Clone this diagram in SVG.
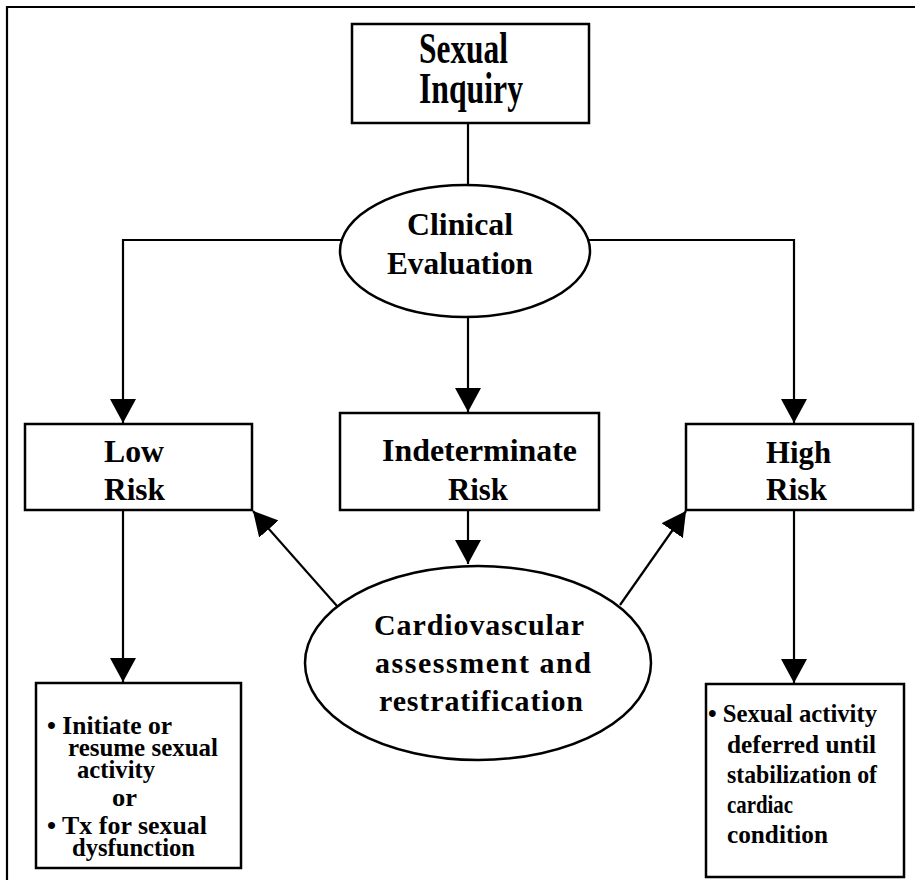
<svg xmlns="http://www.w3.org/2000/svg" width="915" height="880" viewBox="0 0 915 880">
<style>
  .box { fill: #fff; stroke: #000; stroke-width: 2.5; }
  .ell { fill: #fff; stroke: #000; stroke-width: 2.5; }
  .ln { fill: none; stroke: #000; stroke-width: 2.2; }
  .t { font-family: "Liberation Serif", "Times New Roman", serif; font-weight: bold; fill: #000; }
  .big { font-size: 44px; }
  .mid { font-size: 32px; }
  .cv { font-size: 30px; }
  .sm { font-size: 26px; }
  .xs { font-size: 25px; }
</style>
<defs>
  <marker id="arr" viewBox="0 0 24 26" refX="24" refY="13" markerWidth="24" markerHeight="26" markerUnits="userSpaceOnUse" orient="auto">
    <path d="M0,0 L24,13 L0,26 Z" fill="#000"/>
  </marker>
</defs>
<rect width="915" height="880" fill="#fff"/>
<g id="frame">
  <path class="ln" d="M7,880 L7,7 L915,7" stroke-width="2.5"/>
</g>
<g id="connectors">
  <line class="ln" x1="468" y1="123" x2="468" y2="186"/>
  <path class="ln" d="M341,240 L123,240 L123,423" marker-end="url(#arr)"/>
  <path class="ln" d="M589,240 L794,240 L794,423" marker-end="url(#arr)"/>
  <line class="ln" x1="468" y1="317" x2="468" y2="412" marker-end="url(#arr)"/>
  <line class="ln" x1="468" y1="510" x2="468" y2="564" marker-end="url(#arr)"/>
  <line class="ln" x1="337" y1="606" x2="253" y2="511" marker-end="url(#arr)"/>
  <line class="ln" x1="620" y1="605" x2="686" y2="511" marker-end="url(#arr)"/>
  <line class="ln" x1="123" y1="510" x2="123" y2="682" marker-end="url(#arr)"/>
  <line class="ln" x1="794" y1="510" x2="794" y2="683" marker-end="url(#arr)"/>
</g>
<g id="sexual-inquiry">
  <rect class="box" x="352" y="24" width="237" height="99"/>
  <text class="t big" x="419" y="63" textLength="89" lengthAdjust="spacingAndGlyphs">Sexual</text>
  <text class="t big" x="419" y="103" textLength="104" lengthAdjust="spacingAndGlyphs">Inquiry</text>
</g>
<g id="clinical-evaluation">
  <ellipse class="ell" cx="465" cy="251" rx="125" ry="66"/>
  <text class="t mid" x="407" y="235" textLength="106" lengthAdjust="spacingAndGlyphs">Clinical</text>
  <text class="t mid" x="387" y="274" textLength="146" lengthAdjust="spacingAndGlyphs">Evaluation</text>
</g>
<g id="low-risk">
  <rect class="box" x="25" y="424" width="227" height="86"/>
  <text class="t mid" x="104" y="462" textLength="60" lengthAdjust="spacingAndGlyphs">Low</text>
  <text class="t mid" x="104" y="500" textLength="61" lengthAdjust="spacingAndGlyphs">Risk</text>
</g>
<g id="indeterminate-risk">
  <rect class="box" x="340" y="413" width="259" height="97"/>
  <text class="t mid" x="382" y="461" textLength="195" lengthAdjust="spacingAndGlyphs">Indeterminate</text>
  <text class="t mid" x="448" y="500" textLength="60" lengthAdjust="spacingAndGlyphs">Risk</text>
</g>
<g id="high-risk">
  <rect class="box" x="686" y="424" width="227" height="86"/>
  <text class="t mid" x="766" y="463" textLength="65" lengthAdjust="spacingAndGlyphs">High</text>
  <text class="t mid" x="766" y="500" textLength="61" lengthAdjust="spacingAndGlyphs">Risk</text>
</g>
<g id="cardiovascular-assessment">
  <ellipse class="ell" cx="478" cy="663" rx="173" ry="97"/>
  <text class="t cv" x="374" y="635" textLength="210" lengthAdjust="spacing">Cardiovascular</text>
  <text class="t cv" x="375" y="673" textLength="216" lengthAdjust="spacing">assessment  and</text>
  <text class="t cv" x="379" y="711" textLength="204" lengthAdjust="spacing">restratification</text>
</g>
<g id="low-risk-action">
  <rect class="box" x="36" y="683" width="205" height="185"/>
  <text class="t xs" x="47" y="734" textLength="125" lengthAdjust="spacingAndGlyphs">• Initiate or</text>
  <text class="t xs" x="68" y="756" textLength="150" lengthAdjust="spacingAndGlyphs">resume sexual</text>
  <text class="t xs" x="77" y="778" textLength="78" lengthAdjust="spacingAndGlyphs">activity</text>
  <text class="t xs" x="112" y="806" textLength="25" lengthAdjust="spacingAndGlyphs">or</text>
  <text class="t xs" x="47" y="834" textLength="160" lengthAdjust="spacingAndGlyphs">• Tx for sexual</text>
  <text class="t xs" x="72" y="856" textLength="123" lengthAdjust="spacingAndGlyphs">dysfunction</text>
</g>
<g id="high-risk-action">
  <rect class="box" x="706" y="684" width="198" height="193"/>
  <text class="t sm" x="708" y="722" textLength="169" lengthAdjust="spacingAndGlyphs">• Sexual activity</text>
  <text class="t sm" x="727" y="753" textLength="149" lengthAdjust="spacingAndGlyphs">deferred until</text>
  <text class="t sm" x="727" y="783" textLength="150" lengthAdjust="spacingAndGlyphs">stabilization of</text>
  <text class="t sm" x="727" y="813" textLength="66" lengthAdjust="spacingAndGlyphs">cardiac</text>
  <text class="t sm" x="727" y="843" textLength="101" lengthAdjust="spacingAndGlyphs">condition</text>
</g>
</svg>
